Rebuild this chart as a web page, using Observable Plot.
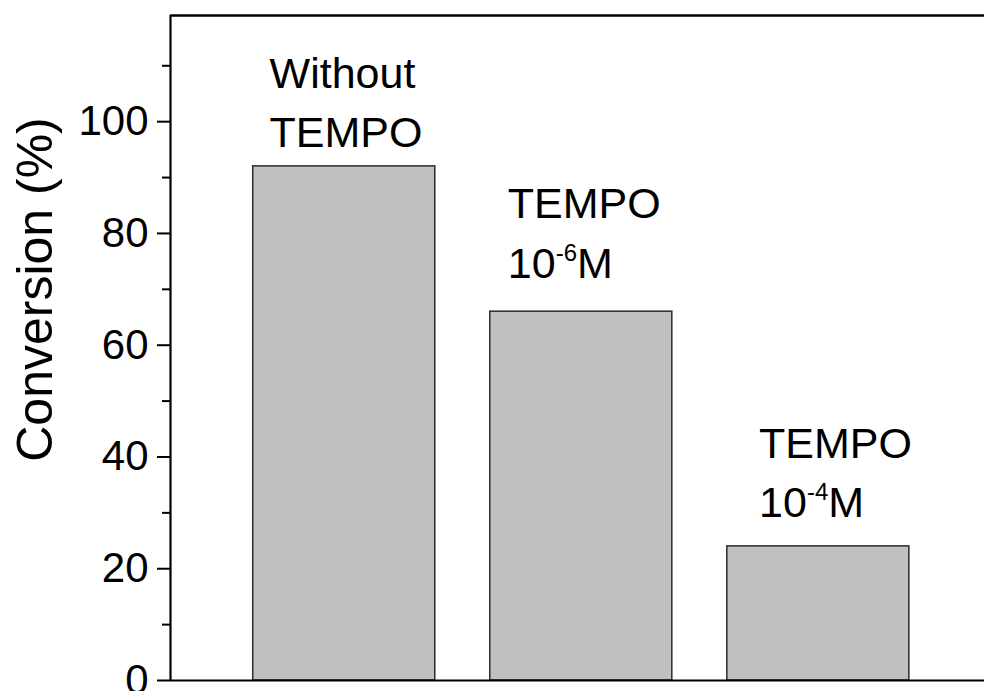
<!DOCTYPE html>
<html>
<head>
<meta charset="utf-8">
<script src="https://cdn.jsdelivr.net/npm/d3@7"></script>
<script src="https://cdn.jsdelivr.net/npm/@observablehq/plot@0.6"></script>
<style>
  html, body { margin: 0; padding: 0; background: #fff; }
  #chart svg { display: block; }
</style>
</head>
<body>
<div id="chart"></div>
<script>
// ---- data ----
const categories = ["Without TEMPO", "TEMPO 10^-6M", "TEMPO 10^-4M"];
const positions = [1, 2, 3];
const conversion = [92, 66, 24];
const annotationText = ["Without\nTEMPO", "TEMPO\n10^-6M", "TEMPO\n10^-4M"];
const annotationX = [0.685, 1.69, 2.75];
const annotationY = [95.4, 72.1, 29.2];
const yMajorTicks = [0, 20, 40, 60, 80, 100];
const yMinorTicks = [10, 30, 50, 70, 90, 110];
const yLabel = "Conversion (%)";

const xDomain = [0.267, 3.701];
const yDomain = [0, 119];
const halfBar = 0.384;

const bars = categories.map((c, i) => ({category: c, pos: positions[i], value: conversion[i]}));
const notes = annotationText.map((t, i) => ({text: t, x: annotationX[i], y: annotationY[i]}));

const font = "'Liberation Sans', Arial, Helvetica, sans-serif";

const chart = Plot.plot({
  width: 984,
  height: 691,
  marginLeft: 170,
  marginRight: 0,
  marginTop: 15,
  marginBottom: 11,
  style: {fontFamily: font, fontSize: "42px", color: "#000", background: "#fff"},
  x: {type: "linear", domain: xDomain, axis: null},
  y: {domain: yDomain, axis: null},
  marks: [
    Plot.rectY(bars, {
      x1: d => d.pos - halfBar,
      x2: d => d.pos + halfBar,
      y1: 0,
      y2: "value",
      fill: "#c0c0c0",
      stroke: "#2b2b2b",
      strokeWidth: 1.5
    }),
    Plot.axisY({ticks: yMajorTicks, tickSize: 13, tickPadding: 9, strokeWidth: 2, fontSize: 42, label: null, tickFormat: d => String(d)}),
    Plot.axisY({ticks: yMinorTicks, tickSize: 8, strokeWidth: 2, text: null, label: null}),
    Plot.ruleY([yDomain[0]], {stroke: "#000", strokeWidth: 2.2}),
    Plot.ruleY([yDomain[1]], {stroke: "#000", strokeWidth: 2.6}),
    Plot.ruleX([xDomain[0]], {stroke: "#000", strokeWidth: 2.2}),
    Plot.text(notes, {
      x: "x", y: "y", text: "text",
      textAnchor: "start", lineAnchor: "bottom", lineHeight: 1.38,
      fontSize: 43, fill: "#000"
    }),
    Plot.text([yLabel], {
      frameAnchor: "left", textAnchor: "middle", rotate: -90, dx: -135, dy: -58.5,
      fontSize: 50, fill: "#000"
    })
  ]
});

// superscripts: "10^-6M" -> 10<sup>-6</sup>M
const NS = "http://www.w3.org/2000/svg";
chart.querySelectorAll("tspan, text").forEach(el => {
  if (el.children.length) return;
  const m = /^(.*)\^(-?\d+)(.*)$/.exec(el.textContent);
  if (!m) return;
  el.textContent = "";
  el.appendChild(document.createTextNode(m[1]));
  const sup = document.createElementNS(NS, "tspan");
  sup.setAttribute("font-size", "24");
  sup.setAttribute("dy", "-17");
  sup.textContent = m[2];
  el.appendChild(sup);
  const rest = document.createElementNS(NS, "tspan");
  rest.setAttribute("dy", "17");
  rest.textContent = m[3];
  el.appendChild(rest);
});

document.getElementById("chart").appendChild(chart);
</script>
</body>
</html>
